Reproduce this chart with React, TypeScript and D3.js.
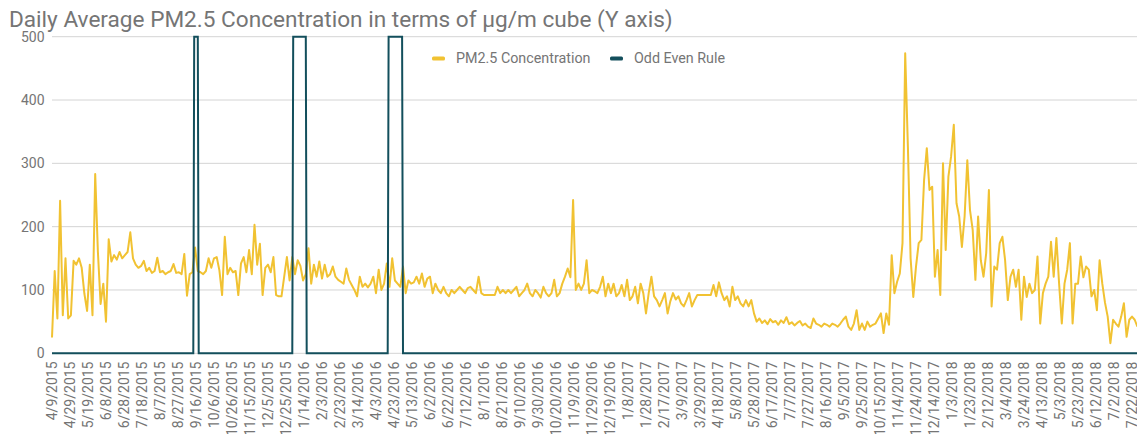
import * as d3 from "d3";

// daily series sampled every few days, starting at startDate
const startDate = "4/9/2015";
const stepDays = 3;

const pm25_2015 = [
  25, 130, 55, 241, 60, 150, 55, 60, 146, 140,
  150, 135, 94, 67, 140, 60, 283, 160, 78, 110,
  50, 180, 145, 155, 148, 160, 150, 155, 160, 191,
  150, 140, 135, 138, 146, 130, 135, 127, 130, 151,
  128, 130, 125, 128, 130, 141, 127, 128, 125, 157,
  91, 125, 128, 167, 130, 128, 125, 130, 150, 135,
  150, 152, 131, 92, 184, 125, 135, 128, 130, 92,
  142, 152, 128, 163, 125, 203, 140, 173, 92, 135,
  140, 128, 152, 92, 90, 90, 121, 152, 115, 152,
  125, 147, 138, 115, 125, 166, 110, 140, 121, 145,
];

const pm25_2016 = [
  118, 140, 121, 125, 137, 121, 116, 113, 110, 134,
  116, 108, 100, 90, 121, 105, 110, 104, 110, 121,
  95, 132, 100, 110, 142, 105, 150, 115, 110, 105,
  137, 95, 115, 110, 112, 121, 110, 126, 105, 118,
  121, 95, 110, 100, 95, 105, 95, 90, 100, 95,
  100, 105, 100, 95, 103, 105, 100, 95, 121, 95,
  92, 92, 92, 92, 92, 105, 95, 100, 95, 100,
  95, 100, 105, 90, 95, 100, 110, 95, 90, 100,
  95, 88, 105, 95, 90, 95, 116, 90, 95, 110,
  121, 134, 120, 242, 100, 110, 100, 110, 147, 95,
];

const pm25_2017 = [
  100, 98, 95, 105, 121, 90, 110, 95, 110, 90,
  95, 108, 90, 116, 84, 90, 105, 79, 110, 95,
  63, 95, 121, 90, 84, 74, 84, 95, 63, 82,
  95, 85, 90, 79, 74, 84, 95, 74, 84, 92,
  92, 92, 92, 92, 92, 108, 90, 112, 95, 84,
  90, 74, 105, 84, 90, 79, 74, 84, 74, 84,
  63, 50, 55, 48, 52, 46, 54, 49, 51, 45,
  52, 48, 57, 46, 49, 44, 48, 51, 44, 47,
  42, 40, 55, 47, 45, 42, 47, 45, 42, 47,
  45, 42, 47, 53, 58, 42, 37, 47, 68, 37,
];

const pm25_2018 = [
  47, 37, 50, 42, 45, 47, 55, 63, 32, 63,
  45, 155, 95, 113, 126, 174, 474, 326, 150, 89,
  137, 174, 179, 274, 324, 258, 263, 121, 163, 92,
  300, 163, 279, 311, 361, 237, 216, 168, 216, 305,
  226, 195, 116, 216, 147, 121, 158, 258, 74, 137,
  132, 174, 184, 147, 84, 121, 132, 105, 132, 53,
  121, 89, 110, 95, 100, 153, 47, 95, 110, 121,
  176, 121, 182, 110, 47, 110, 132, 174, 47, 110,
  110, 153, 120, 137, 132, 90, 100, 68, 147, 110,
  80, 58, 16, 53, 47, 42, 58, 79, 26, 53,
  58, 53, 42,
];

const pm25Values = [...pm25_2015, ...pm25_2016, ...pm25_2017, ...pm25_2018];

// periods when the odd even rule was on (value 500), off otherwise (0)
const oddEvenPeriods = [
  ["9/14/2015", "9/18/2015"],
  ["1/2/2016", "1/16/2016"],
  ["4/17/2016", "5/2/2016"],
];
const oddEvenOn = 500;
const oddEvenOff = 0;

const yTicks = [0, 100, 200, 300, 400, 500];

const xTickLabels = [
  "4/9/2015", "4/29/2015", "5/19/2015", "6/8/2015", "6/28/2015", "7/18/2015",
  "8/7/2015", "8/27/2015", "9/16/2015", "10/6/2015", "10/26/2015", "11/15/2015",
  "12/5/2015", "12/25/2015", "1/14/2016", "2/3/2016", "2/23/2016", "3/14/2016",
  "4/3/2016", "4/23/2016", "5/13/2016", "6/2/2016", "6/22/2016", "7/12/2016",
  "8/1/2016", "8/21/2016", "9/10/2016", "9/30/2016", "10/20/2016", "11/9/2016",
  "11/29/2016", "12/19/2016", "1/8/2017", "1/28/2017", "2/17/2017", "3/9/2017",
  "3/29/2017", "4/18/2017", "5/8/2017", "5/28/2017", "6/17/2017", "7/7/2017",
  "7/27/2017", "8/16/2017", "9/5/2017", "9/25/2017", "10/15/2017", "11/4/2017",
  "11/24/2017", "12/14/2017", "1/3/2018", "1/23/2018", "2/12/2018", "3/4/2018",
  "3/24/2018", "4/13/2018", "5/3/2018", "5/23/2018", "6/12/2018", "7/2/2018",
  "7/22/2018",
];

const W = 1137;
const H = 434;
const YELLOW = "#f1c232";
const TEAL = "#134f5c";
const GREY = "#757575";
const FONT = "Roboto, sans-serif";

const parse = d3.utcParse("%m/%d/%Y");

export default function App() {
  const t0 = parse(startDate) as Date;
  const tickDates = xTickLabels.map((s) => parse(s) as Date);

  const x = d3
    .scaleUtc()
    .domain([tickDates[0], tickDates[tickDates.length - 1]])
    .range([52, 1132]);
  const y = d3.scaleLinear().domain([0, 500]).range([353.3, 36.7]);

  const pmPoints: [Date, number][] = pm25Values.map((v, i) => [
    d3.utcDay.offset(t0, i * stepDays),
    v,
  ]);
  const lastDate = pmPoints[pmPoints.length - 1][0];

  const oddEvenPoints: [Date, number][] = [[t0, oddEvenOff]];
  oddEvenPeriods.forEach(([a, b]) => {
    const s = parse(a) as Date;
    const e = parse(b) as Date;
    oddEvenPoints.push(
      [d3.utcDay.offset(s, -1), oddEvenOff],
      [s, oddEvenOn],
      [e, oddEvenOn],
      [d3.utcDay.offset(e, 1), oddEvenOff]
    );
  });
  oddEvenPoints.push([lastDate, oddEvenOff]);

  const line = d3
    .line<[Date, number]>()
    .x((d) => x(d[0]))
    .y((d) => y(d[1]));

  return (
    <svg
      width={W}
      height={H}
      style={{ position: "absolute", left: 0, top: 0, background: "#fff" }}
      fontFamily={FONT}
    >
      <text x={9} y={27} fontSize={22.6} fill={GREY}>
        Daily Average PM2.5 Concentration in terms of µg/m cube (Y axis)
      </text>

      {/* grid + y labels */}
      {yTicks.map((t) => (
        <g key={t}>
          <line x1={52} x2={W} y1={y(t)} y2={y(t)} stroke="#d4d4d4" strokeWidth={1} />
          <text x={44.5} y={y(t)} dy="0.35em" textAnchor="end" fontSize={14} fill={GREY}>
            {t}
          </text>
        </g>
      ))}

      <path d={line(pmPoints) || ""} fill="none" stroke={YELLOW} strokeWidth={2} strokeLinejoin="round" />
      <path d={line(oddEvenPoints) || ""} fill="none" stroke={TEAL} strokeWidth={2} />

      {/* x labels */}
      {tickDates.map((d, i) => (
        <text
          key={i}
          transform={`translate(${x(d)},361.5) rotate(-90)`}
          dy="0.35em"
          textAnchor="end"
          fontSize={14}
          fill={GREY}
        >
          {xTickLabels[i]}
        </text>
      ))}

      {/* legend */}
      <rect x={432} y={56.5} width={13} height={4} rx={1.5} fill={YELLOW} />
      <text x={456} y={63} fontSize={14.3} fill={GREY}>PM2.5 Concentration</text>
      <rect x={610} y={56.5} width={13} height={4} rx={1.5} fill={TEAL} />
      <text x={634} y={63} fontSize={14.3} fill={GREY}>Odd Even Rule</text>
    </svg>
  );
}
